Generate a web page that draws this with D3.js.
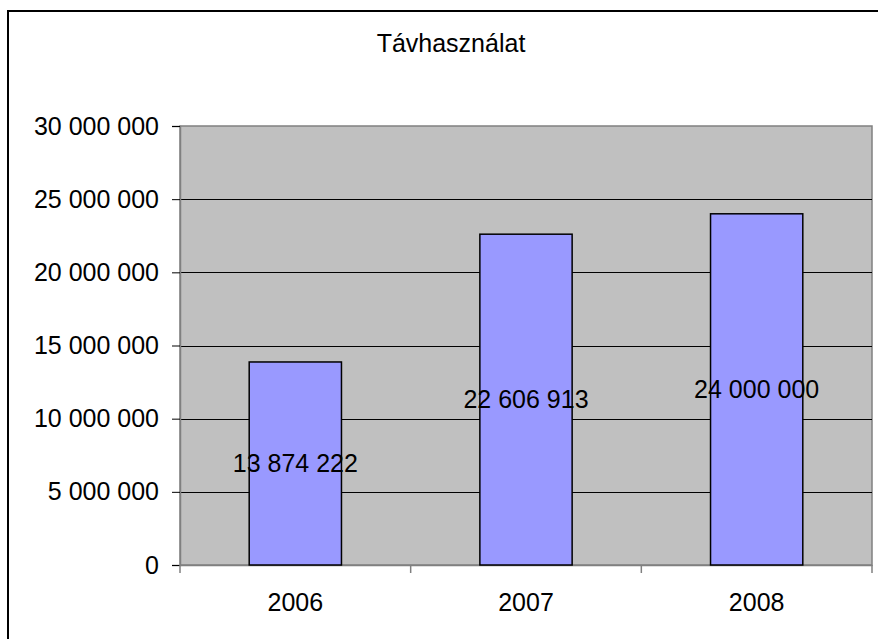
<!DOCTYPE html>
<meta charset="utf-8">
<html>
<head>
	<script src="https://cdn.jsdelivr.net/npm/d3@7"></script>
	<style>
		body { margin: 0; background: #fff; }
		text { font-family: Arial, "Liberation Sans", sans-serif; fill: #000; }
	</style>
</head>
<body>
	<svg id="chart"></svg>
	<script>
	var years = ["2006", "2007", "2008"];
	var values = [13874222, 22606913, 24000000];
	var yTicks = [0, 5000000, 10000000, 15000000, 20000000, 25000000, 30000000];
	var title = "Távhasználat";

	var svgWidth = 878,
		svgHeight = 639;

	var plot = {left: 180, top: 126, right: 872, bottom: 565};

	var hu = d3.formatLocale({decimal: ",", thousands: " ", grouping: [3], currency: ["", ""]});
	var fmt = hu.format(",d");

	var svg = d3.select("#chart")
		.attr("width", svgWidth)
		.attr("height", svgHeight);

	// outer chart frame (cropped at right and bottom)
	svg.append("rect")
		.attr("x", 8).attr("y", 11)
		.attr("width", 1000).attr("height", 1000)
		.attr("fill", "#fff")
		.attr("stroke", "#000")
		.attr("stroke-width", 2);

	svg.append("text")
		.attr("x", 451).attr("y", 52)
		.attr("text-anchor", "middle")
		.style("font-size", "25px")
		.text(title);

	var x = d3.scaleBand()
		.domain(years)
		.range([plot.left, plot.right])
		.paddingInner(0.6)
		.paddingOuter(0.3);

	var y = d3.scaleLinear()
		.domain([0, 30000000])
		.range([plot.bottom, plot.top]);

	// plot area
	svg.append("rect")
		.attr("x", plot.left).attr("y", plot.top)
		.attr("width", plot.right - plot.left)
		.attr("height", plot.bottom - plot.top)
		.attr("fill", "#c0c0c0")
		.attr("stroke", "#808080")
		.attr("stroke-width", 1.5);

	// gridlines
	svg.append("g")
		.selectAll("line")
		.data(yTicks.filter(function(d) { return d > 0 && d < 30000000; }))
		.enter().append("line")
			.attr("x1", plot.left).attr("x2", plot.right)
			.attr("y1", function(d) { return Math.round(y(d)) + 0.5; })
			.attr("y2", function(d) { return Math.round(y(d)) + 0.5; })
			.attr("stroke", "#000");

	// y axis
	var yAxis = svg.append("g")
		.attr("transform", "translate(" + plot.left + ",0)")
		.call(d3.axisLeft(y).tickValues(yTicks).tickFormat(fmt).tickSize(8).tickPadding(13));
	yAxis.select(".domain").attr("stroke", "#808080").attr("stroke-width", 1.5);
	yAxis.selectAll(".tick line").attr("stroke", "#000");
	yAxis.selectAll(".tick text")
		.attr("fill", "#000")
		.style("font-size", "25px")
		.style("font-family", "Arial, 'Liberation Sans', sans-serif");

	// x axis with category boundary ticks
	var xAxis = svg.append("g")
		.attr("transform", "translate(0," + plot.bottom + ")")
		.call(d3.axisBottom(x).tickSize(0).tickPadding(28));
	xAxis.select(".domain").attr("stroke", "#808080").attr("stroke-width", 1.5);
	xAxis.selectAll(".tick text")
		.attr("fill", "#000")
		.style("font-size", "25px")
		.style("font-family", "Arial, 'Liberation Sans', sans-serif");
	var bounds = years.map(function(d) { return x(d) - x.step() * x.paddingOuter(); });
	bounds.push(plot.right);
	xAxis.selectAll(".bound")
		.data(bounds)
		.enter().append("line")
			.attr("class", "bound")
			.attr("x1", function(d) { return d; })
			.attr("x2", function(d) { return d; })
			.attr("y1", 0).attr("y2", 8)
			.attr("stroke", "#808080")
			.attr("stroke-width", 1.5);

	// bars
	svg.append("g")
		.selectAll("rect")
		.data(values)
		.enter().append("rect")
			.attr("x", function(d, i) { return x(years[i]); })
			.attr("y", function(d) { return y(d); })
			.attr("width", x.bandwidth())
			.attr("height", function(d) { return plot.bottom - y(d); })
			.attr("fill", "#9999ff")
			.attr("stroke", "#000")
			.attr("stroke-width", 1.5);

	// value labels, centred in each bar
	svg.append("g")
		.selectAll("text")
		.data(values)
		.enter().append("text")
			.attr("x", function(d, i) { return x(years[i]) + x.bandwidth() / 2; })
			.attr("y", function(d) { return (y(d) + plot.bottom) / 2; })
			.attr("dy", "0.35em")
			.attr("text-anchor", "middle")
			.style("font-size", "25px")
			.text(function(d) { return fmt(d); });
	</script>
</body>
</html>
